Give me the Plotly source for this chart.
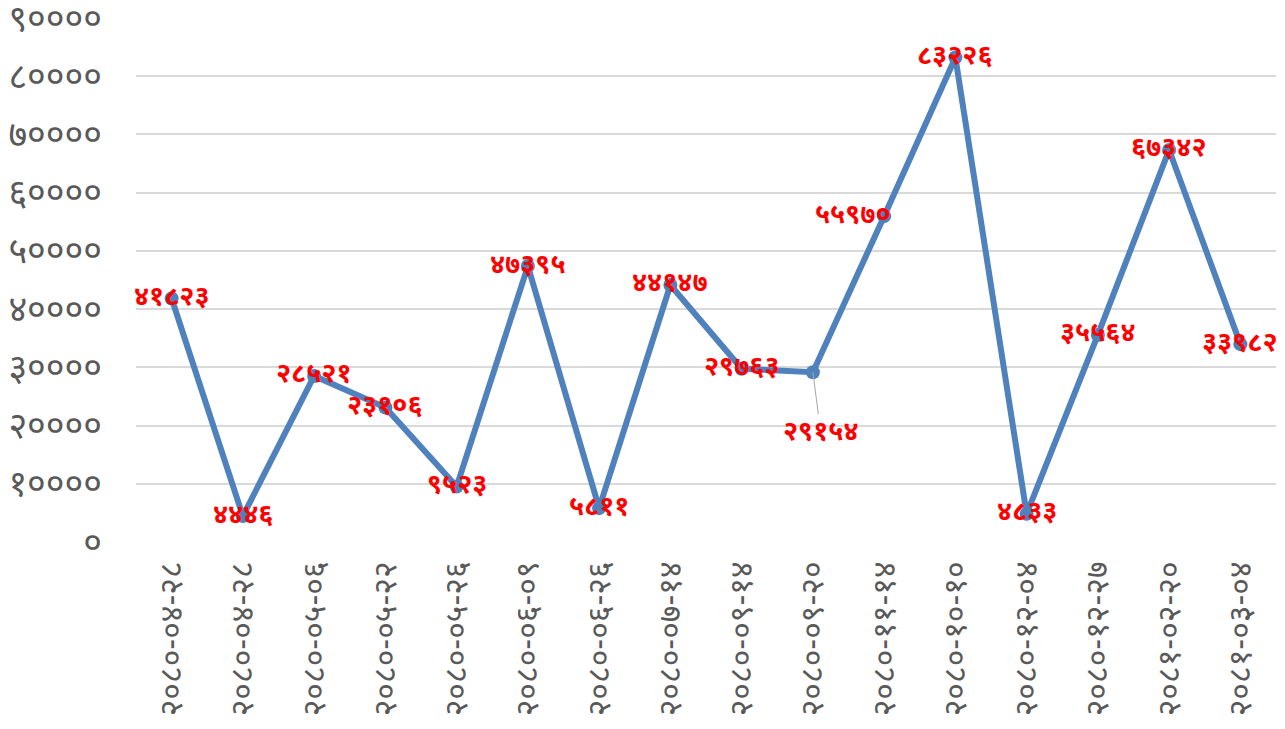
import plotly.graph_objects as go

dates = ["२०८०-०४-२८", "२०८०-०४-२८", "२०८०-०५-०६", "२०८०-०५-२२", "२०८०-०५-२६",
         "२०८०-०६-०९", "२०८०-०६-२६", "२०८०-०७-१४", "२०८०-०९-१४", "२०८०-०९-२०",
         "२०८०-११-१४", "२०८०-१०-१०", "२०८०-१२-०४", "२०८०-१२-२७", "२०८१-०२-२०",
         "२०८१-०३-०४"]
values = [41823, 4446, 28521, 23106, 9523, 47395, 5811, 44147, 29763, 29154,
          55970, 83226, 4833, 35564, 67342, 33982]
yticks = [0, 10000, 20000, 30000, 40000, 50000, 60000, 70000, 80000, 90000]

DEV = str.maketrans("0123456789", "०१२३४५६७८९")
def dev(n):
    return str(n).translate(DEV)

FONT = "Noto Sans Devanagari, Noto Sans, sans-serif"
xs = list(range(len(values)))
fig = go.Figure()
fig.add_trace(go.Scatter(x=xs, y=values, mode="lines+markers",
                         line=dict(color="#4F81BD", width=6),
                         marker=dict(color="#4F81BD", size=14),
                         hoverinfo="skip"))

for i, v in enumerate(values):
    if i == 9:
        fig.add_annotation(x=i, y=v, text="<b>" + dev(v) + "</b>", showarrow=True, arrowhead=0,
                           arrowcolor="#A6A6A6", arrowwidth=1, ax=8, ay=61,
                           font=dict(color="#FF0000", size=27, family=FONT))
    else:
        xs_shift = -31 if i == 10 else 0
        fig.add_annotation(x=i, y=v, text="<b>" + dev(v) + "</b>", showarrow=False,
                           xshift=xs_shift,
                           font=dict(color="#FF0000", size=27, family=FONT))

fig.update_layout(
    width=1269, height=713,
    paper_bgcolor="white", plot_bgcolor="white",
    margin=dict(l=128, r=1, t=10, b=179, autoexpand=False),
    showlegend=False,
    xaxis=dict(range=[-0.5, len(values) - 0.5], tickmode="array", tickvals=xs,
               ticktext=dates, tickangle=-90, showgrid=False, zeroline=False,
               showline=False, ticks="", ticklabelstandoff=12, automargin=False,
               tickfont=dict(color="#595959", size=32, family=FONT)),
    yaxis=dict(range=[0, 90000], tickmode="array", tickvals=yticks,
               ticktext=[dev(t) for t in yticks], showgrid=True,
               gridcolor="#D9D9D9", gridwidth=2, zeroline=False, showline=False,
               ticks="", ticklabelstandoff=33, ticklabeloverflow="allow",
               automargin=False,
               tickfont=dict(color="#595959", size=36, family=FONT)),
)
fig.write_html("out.html")
